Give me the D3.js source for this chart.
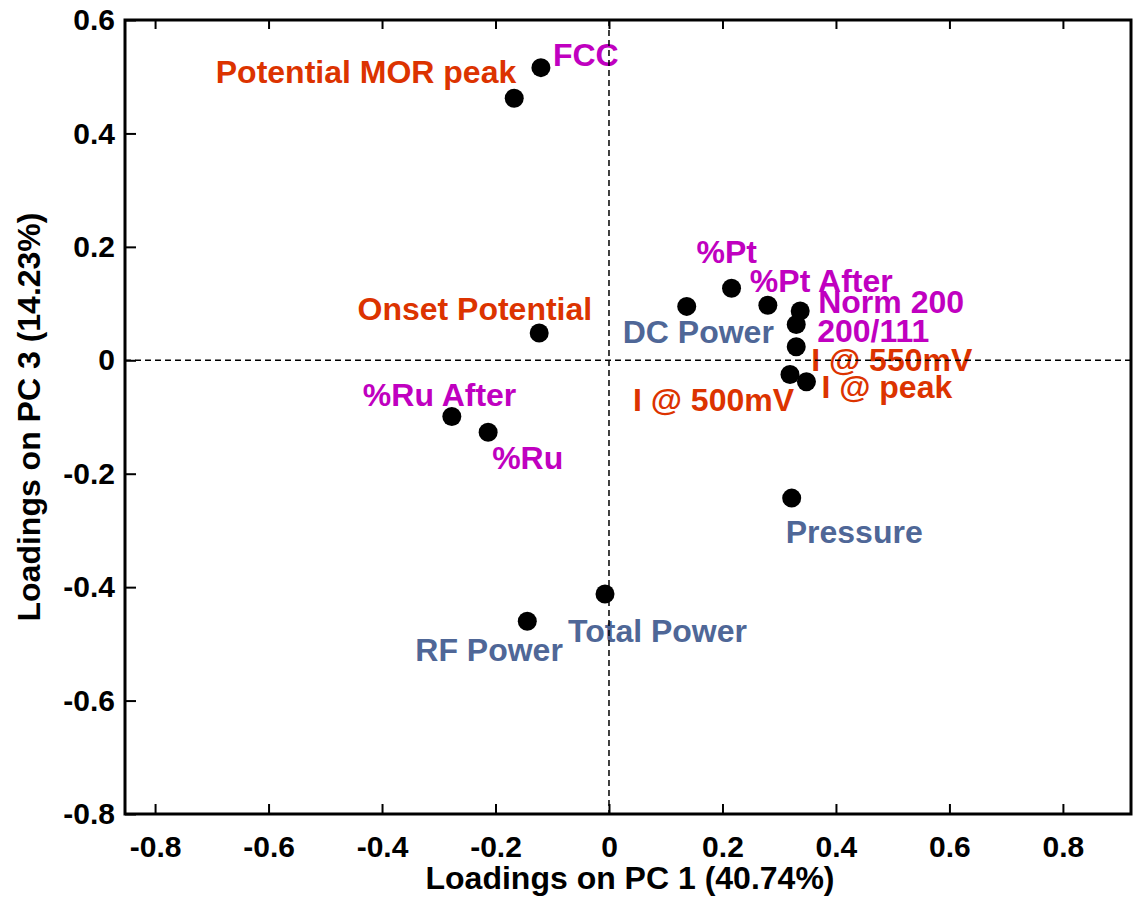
<!DOCTYPE html>
<html>
<head>
<meta charset="utf-8">
<script src="https://cdn.jsdelivr.net/npm/d3@7"></script>
<style>
  html, body { margin: 0; padding: 0; background: #fff; }
  svg { display: block; }
  text { font-family: "Liberation Sans", Arial, sans-serif; font-weight: bold; }
</style>
</head>
<body>
<svg id="chart" width="1134" height="901"></svg>
<script>
// ---- data ----
const variables = ["Potential MOR peak", "FCC", "Onset Potential", "%Ru After", "%Ru",
  "RF Power", "Total Power", "DC Power", "%Pt", "%Pt After", "Norm 200", "200/111",
  "I @ 550mV", "I @ 500mV", "I @ peak", "Pressure"];
const pc1Loadings = [-0.167, -0.120, -0.123, -0.277, -0.213,
  -0.144, -0.007, 0.137, 0.216, 0.280, 0.337, 0.330,
  0.330, 0.319, 0.348, 0.322];
const pc3Loadings = [0.462, 0.516, 0.048, -0.099, -0.127,
  -0.460, -0.412, 0.095, 0.127, 0.097, 0.087, 0.063,
  0.024, -0.025, -0.038, -0.243];
const groups = ["electro", "structure", "electro", "structure", "structure",
  "process", "process", "process", "structure", "structure", "structure", "structure",
  "electro", "electro", "electro", "process"];
const xTicks = [-0.8, -0.6, -0.4, -0.2, 0, 0.2, 0.4, 0.6, 0.8];
const yTicks = [-0.8, -0.6, -0.4, -0.2, 0, 0.2, 0.4, 0.6];
const xTickLabels = ["-0.8", "-0.6", "-0.4", "-0.2", "0", "0.2", "0.4", "0.6", "0.8"];
const yTickLabels = ["-0.8", "-0.6", "-0.4", "-0.2", "0", "0.2", "0.4", "0.6"];
const xDomain = [-0.853, 0.92];
const yDomain = [-0.8, 0.6];
const xTitle = "Loadings on PC 1 (40.74%)";
const yTitle = "Loadings on PC 3 (14.23%)";

// ---- label placement (layout, kept apart from data) ----
const labelOffsets = [
  [2, -15, "end"], [12, -2, "start"], [53, -13, "end"], [-89, -10, "start"], [4, 37, "start"],
  [-112, 40, "start"], [-37, 48, "start"], [-64, 37, "start"], [-35, -25, "start"], [-18, -13, "start"],
  [18, 2, "start"], [21, 17, "start"], [15, 24, "start"], [-157, 37, "start"], [15, 16, "start"],
  [-6, 45, "start"]
];
const groupColor = { electro: "#dc3300", structure: "#c000c0", process: "#4f6797" };

const data = variables.map((v, i) => ({ name: v, x: pc1Loadings[i], y: pc3Loadings[i], g: groups[i], off: labelOffsets[i] }));

// ---- layout ----
const plot = { left: 125, right: 1131, top: 20, bottom: 814 };
const x = d3.scaleLinear().domain(xDomain).range([plot.left, plot.right]);
const y = d3.scaleLinear().domain(yDomain).range([plot.bottom, plot.top]);

const svg = d3.select("#chart");

// labels
svg.append("g").selectAll("text").data(data).join("text")
  .attr("x", d => x(d.x) + d.off[0])
  .attr("y", d => y(d.y) + d.off[1])
  .attr("text-anchor", d => d.off[2])
  .attr("font-size", 32)
  .attr("fill", d => groupColor[d.g])
  .text(d => d.name);

// dashed zero lines
svg.append("line")
  .attr("x1", x(0)).attr("x2", x(0)).attr("y1", plot.top).attr("y2", plot.bottom)
  .attr("stroke", "#000").attr("stroke-width", 1.5).attr("stroke-dasharray", "6,4");
svg.append("line")
  .attr("x1", plot.left).attr("x2", plot.right).attr("y1", y(0)).attr("y2", y(0))
  .attr("stroke", "#000").attr("stroke-width", 1.5).attr("stroke-dasharray", "6,4");

// points
svg.append("g").selectAll("circle").data(data).join("circle")
  .attr("cx", d => x(d.x)).attr("cy", d => y(d.y)).attr("r", 9.5).attr("fill", "#000");

// axes
const bottomAxis = d3.axisBottom(x).tickValues(xTicks).tickFormat((d, i) => xTickLabels[i])
  .tickSizeInner(-10).tickSizeOuter(0).tickPadding(22);
const gx = svg.append("g").attr("transform", `translate(0,${plot.bottom})`).call(bottomAxis);
gx.select(".domain").remove();
gx.selectAll(".tick line").attr("stroke", "#000").attr("stroke-width", 2);
gx.selectAll(".tick text").attr("font-size", 30).attr("font-family", "Liberation Sans, Arial, sans-serif")
  .attr("font-weight", "bold").attr("fill", "#000");

const topAxis = d3.axisTop(x).tickValues(xTicks).tickFormat("").tickSizeInner(-9).tickSizeOuter(0);
const gt = svg.append("g").attr("transform", `translate(0,${plot.top})`).call(topAxis);
gt.select(".domain").remove();
gt.selectAll(".tick line").attr("stroke", "#000").attr("stroke-width", 2);

const leftAxis = d3.axisLeft(y).tickValues(yTicks).tickFormat((d, i) => yTickLabels[i])
  .tickSizeInner(-11).tickSizeOuter(0).tickPadding(10);
const gy = svg.append("g").attr("transform", `translate(${plot.left},0)`).call(leftAxis);
gy.select(".domain").remove();
gy.selectAll(".tick line").attr("stroke", "#000").attr("stroke-width", 2);
gy.selectAll(".tick text").attr("font-size", 30).attr("font-family", "Liberation Sans, Arial, sans-serif")
  .attr("font-weight", "bold").attr("fill", "#000");

// frame
svg.append("rect")
  .attr("x", plot.left).attr("y", plot.top)
  .attr("width", plot.right - plot.left).attr("height", plot.bottom - plot.top)
  .attr("fill", "none").attr("stroke", "#000").attr("stroke-width", 3);

// titles
svg.append("text")
  .attr("x", (plot.left + plot.right) / 2 + 2).attr("y", 889)
  .attr("text-anchor", "middle").attr("font-size", 32).attr("fill", "#000")
  .text(xTitle);
svg.append("text")
  .attr("transform", `translate(40,${(plot.top + plot.bottom) / 2}) rotate(-90)`)
  .attr("text-anchor", "middle").attr("font-size", 32).attr("fill", "#000")
  .text(yTitle);
</script>
</body>
</html>
